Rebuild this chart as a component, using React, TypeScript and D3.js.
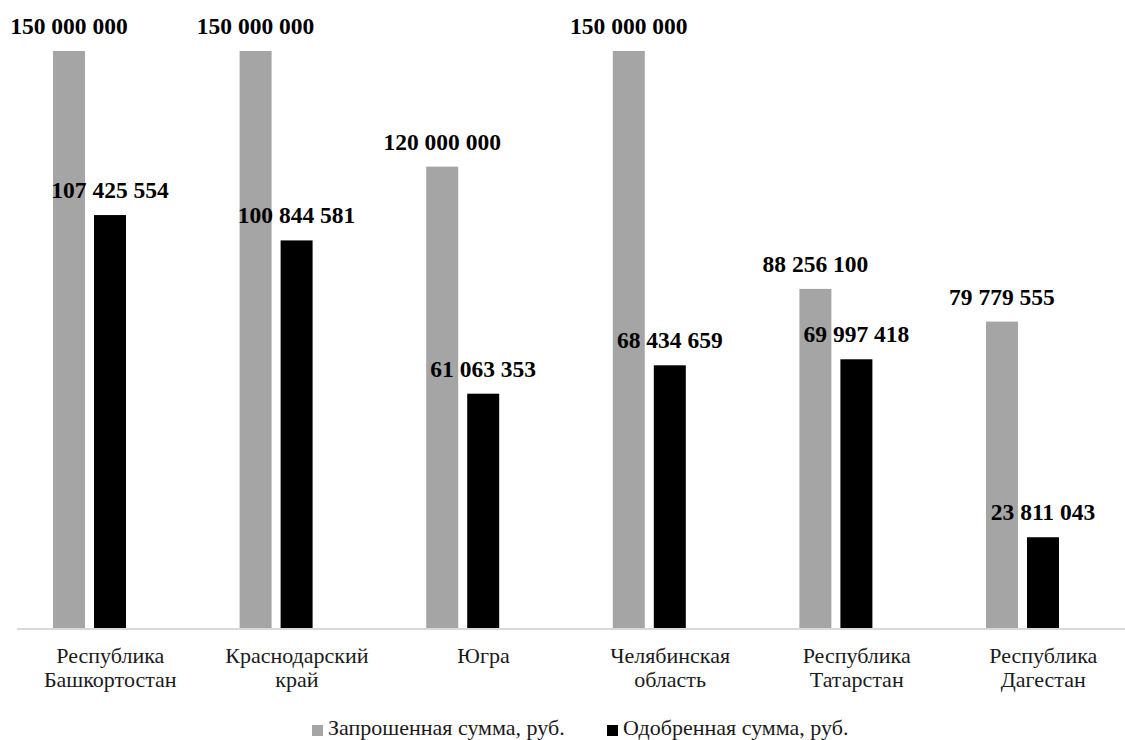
import * as d3 from "d3";
import React from "react";

const categories = [
  ["Республика", "Башкортостан"],
  ["Краснодарский", "край"],
  ["Югра"],
  ["Челябинская", "область"],
  ["Республика", "Татарстан"],
  ["Республика", "Дагестан"],
];
const requested = [150000000, 150000000, 120000000, 150000000, 88256100, 79779555];
const approved = [107425554, 100844581, 61063353, 68434659, 69997418, 23811043];
const seriesNames = ["Запрошенная сумма, руб.", "Одобренная сумма, руб."];
const seriesColors = ["#a5a5a5", "#000000"];

const width = 1125;
const height = 740;
const baseline = 629;
const top = 51;
const font = "Liberation Serif";

const fmt = (v: number) => d3.format(",")(v).replace(/,/g, " ");

const App = () => {
  const keys = categories.map((c) => c.join(" "));
  const x0 = d3.scaleBand().domain(keys).range([17, 17 + 186.6 * 6]).padding(0);
  // third slot is an empty series in the original, which shifts bars left
  const x1 = d3.scaleBand().domain(["0", "1", "2"]).range([36, 150]).paddingInner(0.22).paddingOuter(0);
  const y = d3.scaleLinear().domain([0, 150000000]).range([baseline, top]);
  const series = [requested, approved];

  return (
    <svg width={width} height={height} style={{ display: "block", position: "absolute", left: 0, top: 0, background: "white" }}>
      {series.map((vals, si) =>
        vals.map((v, i) => {
          const bx = (x0(keys[i]) as number) + (x1(String(si)) as number);
          return (
            <g key={`${si}-${i}`}>
              <rect x={bx} y={y(v)} width={x1.bandwidth()} height={baseline - y(v)} fill={seriesColors[si]} />
              <text
                x={bx + x1.bandwidth() / 2}
                y={y(v) - 17}
                textAnchor="middle"
                fontFamily={font}
                fontWeight="bold"
                fontSize={23.5}
                fill="#000"
              >
                {fmt(v)}
              </text>
            </g>
          );
        })
      )}
      <line x1={17} x2={width} y1={baseline} y2={baseline} stroke="#d9d9d9" strokeWidth={2} />
      {categories.map((lines, i) => {
        const cx = (x0(keys[i]) as number) + x0.bandwidth() / 2;
        return (
          <text key={i} textAnchor="middle" fontFamily={font} fontSize={22} fill="#1a1a1a">
            {lines.map((l, j) => (
              <tspan key={j} x={cx} y={663 + j * 24}>
                {l}
              </tspan>
            ))}
          </text>
        );
      })}
      <g fontFamily={font} fontSize={22} fill="#1a1a1a">
        <rect x={312} y={725} width={11} height={11} fill={seriesColors[0]} />
        <text x={328} y={735}>{seriesNames[0]}</text>
        <rect x={607} y={725} width={11} height={11} fill={seriesColors[1]} />
        <text x={623} y={735}>{seriesNames[1]}</text>
      </g>
    </svg>
  );
};

export default App;
